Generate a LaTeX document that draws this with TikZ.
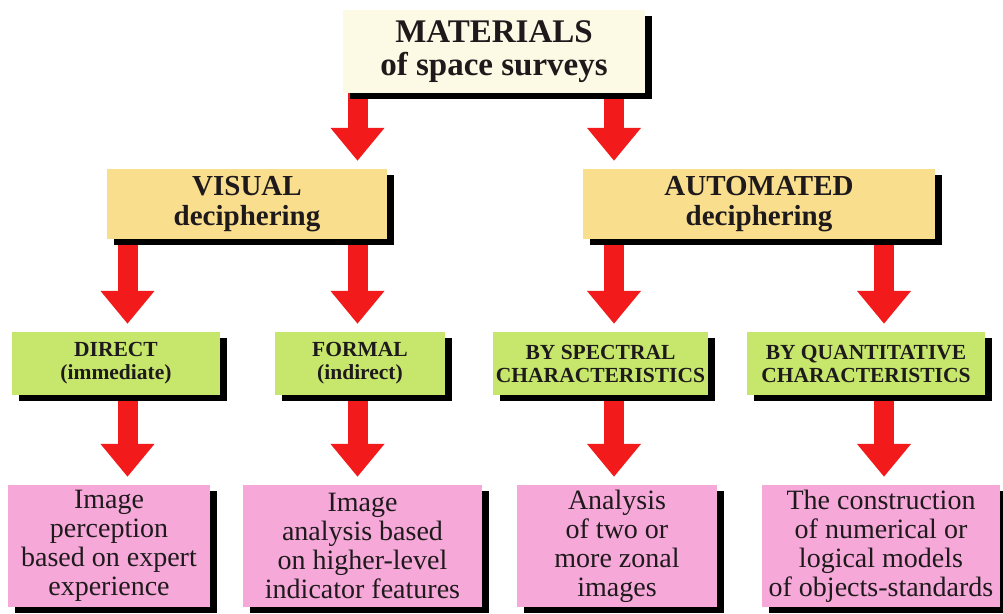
\documentclass[tikz,border=0pt]{standalone}
\usepackage{fontspec}
\setmainfont{Liberation Serif}
\usepackage{tikz}
\usetikzlibrary{
  arrows.meta,
  shadows,
  backgrounds,
}
\definecolor{surveyCream}{HTML}{FCF9E4}
\definecolor{methodGold}{HTML}{F9DE8E}
\definecolor{kindGreen}{HTML}{C7E66C}
\definecolor{resultPink}{HTML}{F6A8D8}
\definecolor{arrowRed}{HTML}{F21A1A}
\definecolor{inkDark}{HTML}{1E1A1C}

\begin{document}
\begin{tikzpicture}[x=1pt, y=-1pt,
  panel/.style={inner sep=2pt, align=center, text=inkDark,
    drop shadow={shadow xshift=7pt, shadow yshift=-6pt, fill=black, opacity=1}},
  topbox/.style={panel, fill=surveyCream,
    font=\fontsize{33}{33}\selectfont\bfseries},
  methodbox/.style={panel, fill=methodGold, minimum height=70pt,
    font=\fontsize{29}{30}\selectfont\bfseries},
  kindbox/.style={panel, fill=kindGreen, minimum height=63pt,
    font=\fontsize{21.5}{23}\selectfont\bfseries},
  resultbox/.style={panel, fill=resultPink, minimum height=122pt,
    font=\fontsize{28}{29}\selectfont},
  downarrow/.style={draw=arrowRed, line width=20pt,
    -{Triangle[length=33pt,width=52pt]}, shorten >=8pt},
]

\useasboundingbox (0,0) rectangle (1003,613);

% arrow columns
\coordinate (colA) at (127.5,0);
\coordinate (colB) at (357.5,0);
\coordinate (colC) at (614,0);
\coordinate (colD) at (884,0);

% top
\node[topbox, minimum width=302pt, minimum height=83pt] (mat) at (494,51.5)
  {MATERIALS\\of space surveys};

% methods
\node[methodbox, minimum width=280pt] (vis) at (247,204) {VISUAL\\deciphering};
\node[methodbox, minimum width=352pt] (aut) at (759,204) {AUTOMATED\\deciphering};

% kinds
\node[kindbox, minimum width=208pt] (dir) at (116,363.5) {DIRECT\\(immediate)};
\node[kindbox, minimum width=170pt] (frm) at (360,363.5) {FORMAL\\(indirect)};
\node[kindbox, minimum width=215pt] (spc) at (600.5,363.5)
  {BY SPECTRAL\\CHARACTERISTICS};
\node[kindbox, minimum width=238pt] (qnt) at (866,363.5)
  {BY QUANTITATIVE\\CHARACTERISTICS};

% results
\node[resultbox, minimum width=202pt] (resDir) at (109,546)
  {Image\\perception\\based on expert\\experience};
\node[resultbox, minimum width=239pt] (resFrm) at (362.5,546)
  {Image\\analysis based\\on higher-level\\indicator features};
\node[resultbox, minimum width=200pt] (resSpc) at (617,546)
  {Analysis\\of two or\\more zonal\\images};
\node[resultbox, minimum width=238pt] (resQnt) at (881,546)
  {The construction\\of numerical or\\logical models\\of objects-standards};

% arrows under the boxes and their shadows
\begin{scope}[on background layer]
\fill[white] (0,0) rectangle (1003,613);
\foreach \src/\dst/\col in {%
  mat/vis/colB, mat/aut/colC,%
  vis/dir/colA, vis/frm/colB,%
  aut/spc/colC, aut/qnt/colD,%
  dir/resDir/colA, frm/resFrm/colB,%
  spc/resSpc/colC, qnt/resQnt/colD%
}
  \draw[downarrow] (\src.south -| \col) -- (\dst.north -| \col);
\end{scope}

\end{tikzpicture}
\end{document}
